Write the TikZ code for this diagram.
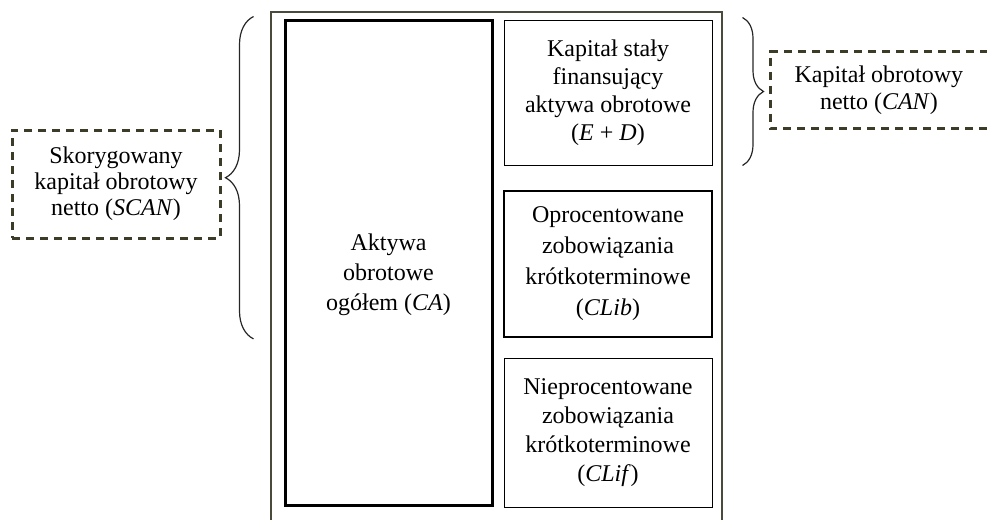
\documentclass[tikz,border=0pt]{standalone}
\usepackage{fontspec}
\setmainfont{Liberation Serif}
\usepackage{tikz}
\usetikzlibrary{calc,decorations.pathreplacing}
\definecolor{frameGray}{RGB}{75,75,60}
\definecolor{dashOlive}{RGB}{60,60,40}
\newcommand\rightBoxWidth{104pt}
\newcommand\braceGap{30}
\newcommand\lineSkip{14.5}
\newcommand\dashSkip{13}

\begin{document}
\begin{tikzpicture}[x=0.5pt,y=-0.5pt,
    plainbox/.style={draw=black, align=center, inner sep=0pt, font=\fontsize{12}{\lineSkip}\selectfont},
    dashbox/.style={draw=dashOlive, line width=1.5pt, dash pattern=on 4pt off 3pt},
    dashtext/.style={align=center, inner sep=0pt, font=\fontsize{12}{\dashSkip}\selectfont},
    curly/.style={draw=black!85, line width=0.6pt, decorate}]
    \useasboundingbox (0,0) rectangle (987,520);

    % OUTER FRAME
    \draw[frameGray, line width=1pt] (271,520) |- (722,12) -- (722,520);

    % LEFT BLOCK
    \node[plainbox, line width=1.5pt, minimum width=103.5pt, minimum height=242.5pt, font=\fontsize{12}{15}\selectfont] (ca) at (388.5,262.5) {\mbox{}\\[6pt]Aktywa\\obrotowe\\ogółem (\textit{CA})};

    % RIGHT BLOCKS
    \node[plainbox, line width=0.5pt, minimum width=\rightBoxWidth, minimum height=72.5pt, font=\fontsize{12}{14}\selectfont] (cf) at (608,92.5) {Kapitał stały\\finansujący\\aktywa obrotowe\\(\textit{E} + \textit{D})};
    \node[plainbox, line width=0.9pt, minimum width=\rightBoxWidth, minimum height=73pt, font=\fontsize{12}{15.5}\selectfont] (clib) at (608,264) {Oprocentowane\\zobowiązania\\krótkoterminowe\\(\textit{CLib})};
    \node[plainbox, line width=0.5pt, minimum width=\rightBoxWidth, minimum height=74.5pt] (clif) at (608,432.5) {Nieprocentowane\\zobowiązania\\krótkoterminowe\\(\textit{CLif})};

    % DASHED LABELS
    \node[dashtext, dashbox, minimum width=104pt, minimum height=54pt] (scan) at (116,184) {Skorygowany\\kapitał obrotowy\\netto (\textit{SCAN})};
    \node[dashtext, anchor=west, minimum width=108.5pt, minimum height=38pt, font=\fontsize{12}{13.5}\selectfont] (can) at (770,90) {Kapitał obrotowy\\netto (\textit{CAN})};
    \draw[dashbox] (can.north east) -- (can.north west) -- (can.south west) -- (can.south east);

    % BRACES
    \draw[curly, decoration={brace, amplitude=14pt}] ($(ca.west |- clib.south)+(-\braceGap,1)$) -- ($(ca.north west)+(-\braceGap,-2)$);
    \draw[curly, decoration={brace, amplitude=10.5pt}] ($(cf.north east)+(\braceGap,-2)$) -- ($(cf.south east)+(\braceGap,0)$);

\end{tikzpicture}
\end{document}
